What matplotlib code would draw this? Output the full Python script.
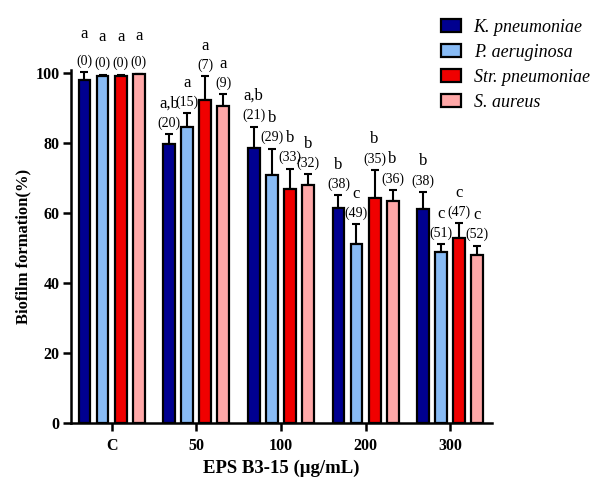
import numpy as np
import matplotlib.pyplot as plt

plt.rcParams['font.family'] = ['Liberation Serif', 'DejaVu Serif']

# Data
groups = ['C', '50', '100', '200', '300']
species = ['K. pneumoniae', 'P. aeruginosa', 'Str. pneumoniae', 'S. aureus']

k_mean = [98.0, 79.7, 78.8, 61.6, 61.3]
p_mean = [99.2, 84.7, 70.9, 51.1, 49.0]
str_mean = [99.2, 92.4, 67.0, 64.5, 52.9]
s_mean = [99.7, 90.7, 68.0, 63.5, 48.2]

k_err = [2.3, 2.9, 6.0, 3.6, 4.8]
p_err = [0.4, 3.9, 7.6, 5.8, 2.1]
str_err = [0.4, 6.8, 5.8, 7.9, 4.2]
s_err = [0.2, 3.3, 3.1, 3.2, 2.5]

k_letters = ['a', 'a,b', 'a,b', 'b', 'b']
p_letters = ['a', 'a', 'b', 'c', 'c']
str_letters = ['a', 'a', 'b', 'b', 'c']
s_letters = ['a', 'a', 'b', 'b', 'c']

k_inhib = [0, 20, 21, 38, 38]
p_inhib = [0, 15, 29, 49, 51]
str_inhib = [0, 7, 33, 35, 47]
s_inhib = [0, 9, 32, 36, 52]

means = [k_mean, p_mean, str_mean, s_mean]
errs = [k_err, p_err, str_err, s_err]
letters = [k_letters, p_letters, str_letters, s_letters]
inhib = [k_inhib, p_inhib, str_inhib, s_inhib]
colors = ['#000090', '#88BBF5', '#F00000', '#FFA8A8']

fig = plt.figure(figsize=(5.96, 4.82), dpi=100)
ax = fig.add_axes([0.119, 0.122, 0.706, 0.733])

x = np.arange(len(groups))
width = 0.14
offsets = [-0.32, -0.107, 0.107, 0.32]

for i in range(4):
    xs = x + offsets[i]
    m = np.array(means[i])
    e = np.array(errs[i])
    ax.bar(xs, m, width, color=colors[i], edgecolor='black', linewidth=1.6,
           label=species[i], zorder=2)
    ax.errorbar(xs, m, yerr=[np.zeros_like(e), e], fmt='none', ecolor='black',
                elinewidth=1.5, capsize=3, capthick=1.5, zorder=1)
    for j in range(len(groups)):
        top = m[j] + e[j]
        ax.annotate('(%d)' % inhib[i][j], (xs[j], top), xytext=(0, 8),
                    textcoords='offset points', ha='center', va='center',
                    fontsize=10)
        gap = 19.5 if j == 0 else 14
        ax.annotate(letters[i][j], (xs[j], top), xytext=(0, 8 + gap),
                    textcoords='offset points', ha='center', va='center',
                    fontsize=12)

ax.set_xlim(-0.48, 4.49)
ax.set_ylim(0, 101)
ax.set_xticks(x)
ax.set_xticklabels(groups)
ax.set_yticks([0, 20, 40, 60, 80, 100])
ax.spines['top'].set_visible(False)
ax.spines['right'].set_visible(False)
for s in ['left', 'bottom']:
    ax.spines[s].set_linewidth(1.8)
ax.tick_params(width=1.8, length=6, labelsize=11.5, pad=2)
ax.tick_params(axis='x', pad=5)
for lab in ax.get_xticklabels() + ax.get_yticklabels():
    lab.set_fontweight('bold')

ax.set_xlabel('EPS B3-15 (\u03bcg/mL)', fontsize=13.5, fontweight='bold', labelpad=4)
ax.set_ylabel('Biofilm formation(%)', fontsize=12, fontweight='bold', labelpad=3)

fig.legend(loc='upper left', bbox_to_anchor=(0.713, 0.995), frameon=False,
           prop={'style': 'italic', 'size': 13}, handlelength=1.1,
           handleheight=0.7, handletextpad=0.7, labelspacing=0.45)

fig.savefig('out.png', dpi=100)
